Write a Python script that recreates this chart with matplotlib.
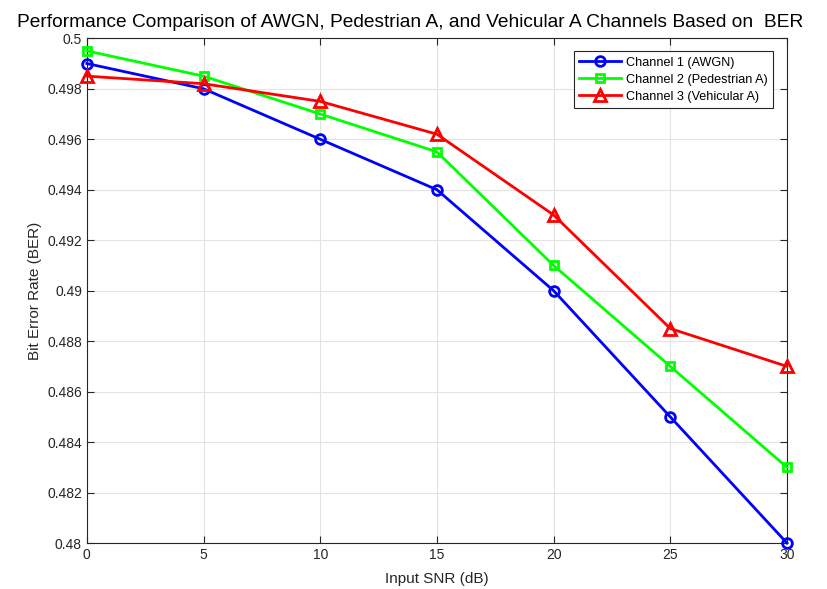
import matplotlib
matplotlib.use("Agg")
import matplotlib.pyplot as plt

snr = [0, 5, 10, 15, 20, 25, 30]
ber_awgn = [0.499, 0.498, 0.496, 0.494, 0.490, 0.485, 0.480]
ber_ped = [0.4995, 0.4985, 0.497, 0.4955, 0.491, 0.487, 0.483]
ber_veh = [0.4985, 0.4982, 0.4975, 0.4962, 0.493, 0.4885, 0.487]
labels = ["Channel 1 (AWGN)", "Channel 2 (Pedestrian A)", "Channel 3 (Vehicular A)"]

plt.rcParams['font.family'] = ['Liberation Sans', 'DejaVu Sans']
fig = plt.figure(figsize=(8.27, 5.89), dpi=100)
ax = fig.add_axes([0.105, 0.078, 0.8466, 0.857])

ax.plot(snr, ber_awgn, '-o', color='#0000ff', lw=2, ms=7, mfc='none', mew=2, label=labels[0], clip_on=False, zorder=3)
ax.plot(snr, ber_ped, '-s', color='#00ff00', lw=2, ms=6, mfc='none', mew=2, label=labels[1], clip_on=False, zorder=3)
ax.plot(snr, ber_veh, '-^', color='#ff0000', lw=2, ms=8, mfc='none', mew=2, label=labels[2], clip_on=False, zorder=3)

ax.set_xlim(0, 30)
ax.set_ylim(0.48, 0.5)
ax.set_xticks(snr)
yt = [0.48, 0.482, 0.484, 0.486, 0.488, 0.49, 0.492, 0.494, 0.496, 0.498, 0.5]
ax.set_yticks(yt)
ax.set_yticklabels(['0.48', '0.482', '0.484', '0.486', '0.488', '0.49', '0.492', '0.494', '0.496', '0.498', '0.5'])
ax.grid(True, color='#e3e3e3', lw=0.8)
ax.set_axisbelow(True)
ax.tick_params(direction='in', top=True, right=True, labelsize=10, colors='#262626', length=5)
for s in ax.spines.values():
    s.set_color('#262626')
    s.set_linewidth(0.8)
ax.set_xlabel('Input SNR (dB)', fontsize=11, color='#262626', labelpad=7)
ax.set_ylabel('Bit Error Rate (BER)', fontsize=11, color='#262626')
fig.text(410 / 827, 1 - 27 / 589,
         'Performance Comparison of AWGN, Pedestrian A, and Vehicular A Channels Based on  BER',
         fontsize=13.8, ha='center', va='baseline')
leg = ax.legend(loc='upper right', fontsize=9.1, fancybox=False, edgecolor='#262626', framealpha=1,
                bbox_to_anchor=(773 / 827, 1 - 51 / 589), bbox_transform=fig.transFigure,
                borderaxespad=0, handlelength=3.25, handletextpad=0.4, borderpad=0.45, labelspacing=0.4)
leg.get_frame().set_linewidth(0.8)
fig.savefig('out.png', dpi=100)
